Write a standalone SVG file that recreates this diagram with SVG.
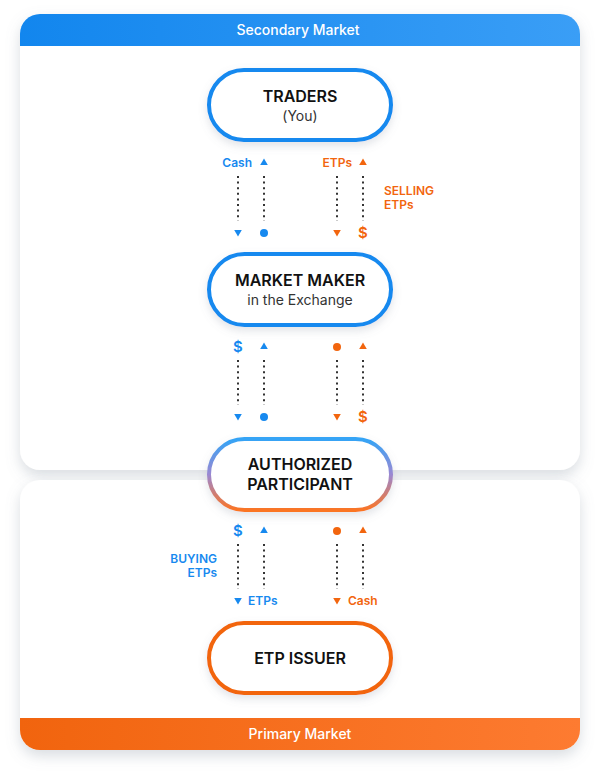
<svg xmlns="http://www.w3.org/2000/svg" width="600" height="782" viewBox="0 0 600 782">
<defs>
<linearGradient id="gBlue" x1="0" y1="0" x2="1" y2="0"><stop offset="0" stop-color="#1286ee"/><stop offset="1" stop-color="#3a9ef6"/></linearGradient>
<linearGradient id="gOrange" x1="0" y1="0" x2="1" y2="0"><stop offset="0" stop-color="#f1640e"/><stop offset="1" stop-color="#fd7b31"/></linearGradient>
<linearGradient id="gAP" x1="0" y1="0" x2="0" y2="1"><stop offset="0" stop-color="#34a4f6"/><stop offset="0.5" stop-color="#9a88d2"/><stop offset="1" stop-color="#fb7424"/></linearGradient>
<filter id="cardShadow" x="-10%" y="-10%" width="120%" height="130%"><feDropShadow dx="0" dy="6" stdDeviation="7" flood-color="#8a95a3" flood-opacity="0.32"/></filter>
<filter id="nodeShadow" x="-20%" y="-30%" width="140%" height="170%"><feDropShadow dx="0" dy="4" stdDeviation="4" flood-color="#7a8595" flood-opacity="0.22"/></filter>
<clipPath id="cTop"><rect x="20" y="14" width="560" height="456" rx="20"/></clipPath>
<clipPath id="cBot"><rect x="20" y="480" width="560" height="270" rx="20"/></clipPath>
<path id="up" d="M-3.8,3 L3.8,3 L0,-3.5 Z"/>
<path id="down" d="M-3.8,-3 L3.8,-3 L0,3.5 Z"/>
</defs>
<style>
.card{fill:#ffffff;}
.band{font-family:Inter,"Liberation Sans",sans-serif;font-size:14px;font-weight:500;fill:#ffffff;text-anchor:middle;}
.node{fill:#ffffff;stroke-width:4;}
.nb{stroke:#1789ef;}
.no{stroke:#f2650e;}
.ttl{font-family:Inter,"Liberation Sans",sans-serif;font-size:16px;font-weight:600;fill:#111111;text-anchor:middle;}
.sub{font-family:Inter,"Liberation Sans",sans-serif;font-size:14px;fill:#333333;text-anchor:middle;}
.dot{stroke:#333333;stroke-width:2;stroke-dasharray:2 3.6;fill:none;}
.b{fill:#1789ef;}
.o{fill:#f2650e;}
.lbl{font-family:Inter,"Liberation Sans",sans-serif;font-size:12px;font-weight:600;}
.dol{font-family:Inter,"Liberation Sans",sans-serif;font-size:15px;font-weight:600;text-anchor:middle;}
</style>
<rect width="600" height="782" fill="#ffffff"/>
<g id="secondary-market">
<rect class="card" x="20" y="14" width="560" height="456" rx="20" filter="url(#cardShadow)"/>
<rect x="20" y="14" width="560" height="32" fill="url(#gBlue)" clip-path="url(#cTop)"/>
<text class="band" x="298" y="35">Secondary Market</text>
</g>
<g id="primary-market">
<rect class="card" x="20" y="480" width="560" height="270" rx="20" filter="url(#cardShadow)"/>
<rect x="20" y="718" width="560" height="32" fill="url(#gOrange)" clip-path="url(#cBot)"/>
<text class="band" x="300" y="739">Primary Market</text>
</g>
<g id="connectors">
<line class="dot" x1="238" y1="176" x2="238" y2="221"/>
<line class="dot" x1="264" y1="176" x2="264" y2="221"/>
<line class="dot" x1="337" y1="176" x2="337" y2="221"/>
<line class="dot" x1="363" y1="176" x2="363" y2="221"/>
<line class="dot" x1="238" y1="360" x2="238" y2="405"/>
<line class="dot" x1="264" y1="360" x2="264" y2="405"/>
<line class="dot" x1="337" y1="360" x2="337" y2="405"/>
<line class="dot" x1="363" y1="360" x2="363" y2="405"/>
<line class="dot" x1="238" y1="544" x2="238" y2="589"/>
<line class="dot" x1="264" y1="544" x2="264" y2="589"/>
<line class="dot" x1="337" y1="544" x2="337" y2="589"/>
<line class="dot" x1="363" y1="544" x2="363" y2="589"/>
<!-- section 1 -->
<text class="lbl b" x="252" y="167" text-anchor="end">Cash</text>
<use href="#up" class="b" x="264" y="162"/>
<text class="lbl o" x="352" y="167" text-anchor="end">ETPs</text>
<use href="#up" class="o" x="363" y="162"/>
<use href="#down" class="b" x="238" y="233"/>
<circle class="b" cx="264" cy="233" r="4"/>
<use href="#down" class="o" x="337" y="233"/>
<text class="dol o" x="363" y="238">$</text>
<text class="lbl o" x="384" y="195">SELLING</text>
<text class="lbl o" x="384" y="209">ETPs</text>
<!-- section 2 -->
<text class="dol b" x="238" y="352">$</text>
<use href="#up" class="b" x="264" y="346"/>
<circle class="o" cx="337" cy="347" r="4"/>
<use href="#up" class="o" x="363" y="346"/>
<use href="#down" class="b" x="238" y="417"/>
<circle class="b" cx="264" cy="417" r="4"/>
<use href="#down" class="o" x="337" y="417"/>
<text class="dol o" x="363" y="422">$</text>
<!-- section 3 -->
<text class="dol b" x="238" y="536">$</text>
<use href="#up" class="b" x="264" y="530"/>
<circle class="o" cx="337" cy="531" r="4"/>
<use href="#up" class="o" x="363" y="530"/>
<use href="#down" class="b" x="238" y="601"/>
<text class="lbl b" x="248" y="605">ETPs</text>
<use href="#down" class="o" x="337" y="601"/>
<text class="lbl o" x="348" y="605">Cash</text>
<text class="lbl b" x="217" y="563" text-anchor="end">BUYING</text>
<text class="lbl b" x="217" y="577" text-anchor="end">ETPs</text>
</g>
<g id="traders">
<rect class="node nb" x="209" y="70" width="182" height="70" rx="35" filter="url(#nodeShadow)"/>
<text class="ttl" x="300" y="102">TRADERS</text>
<text class="sub" x="300" y="121">(You)</text>
</g>
<g id="market-maker">
<rect class="node nb" x="209" y="254" width="182" height="71" rx="35.5" filter="url(#nodeShadow)"/>
<text class="ttl" x="300" y="286">MARKET MAKER</text>
<text class="sub" x="300" y="305">in the Exchange</text>
</g>
<g id="authorized-participant">
<rect class="node" stroke="url(#gAP)" x="209" y="439" width="182" height="71" rx="35.5" filter="url(#nodeShadow)"/>
<text class="ttl" x="300" y="470">AUTHORIZED</text>
<text class="ttl" x="300" y="490">PARTICIPANT</text>
</g>
<g id="etp-issuer">
<rect class="node no" x="209" y="623" width="182" height="70" rx="35" filter="url(#nodeShadow)"/>
<text class="ttl" x="300" y="664">ETP ISSUER</text>
</g>
</svg>
